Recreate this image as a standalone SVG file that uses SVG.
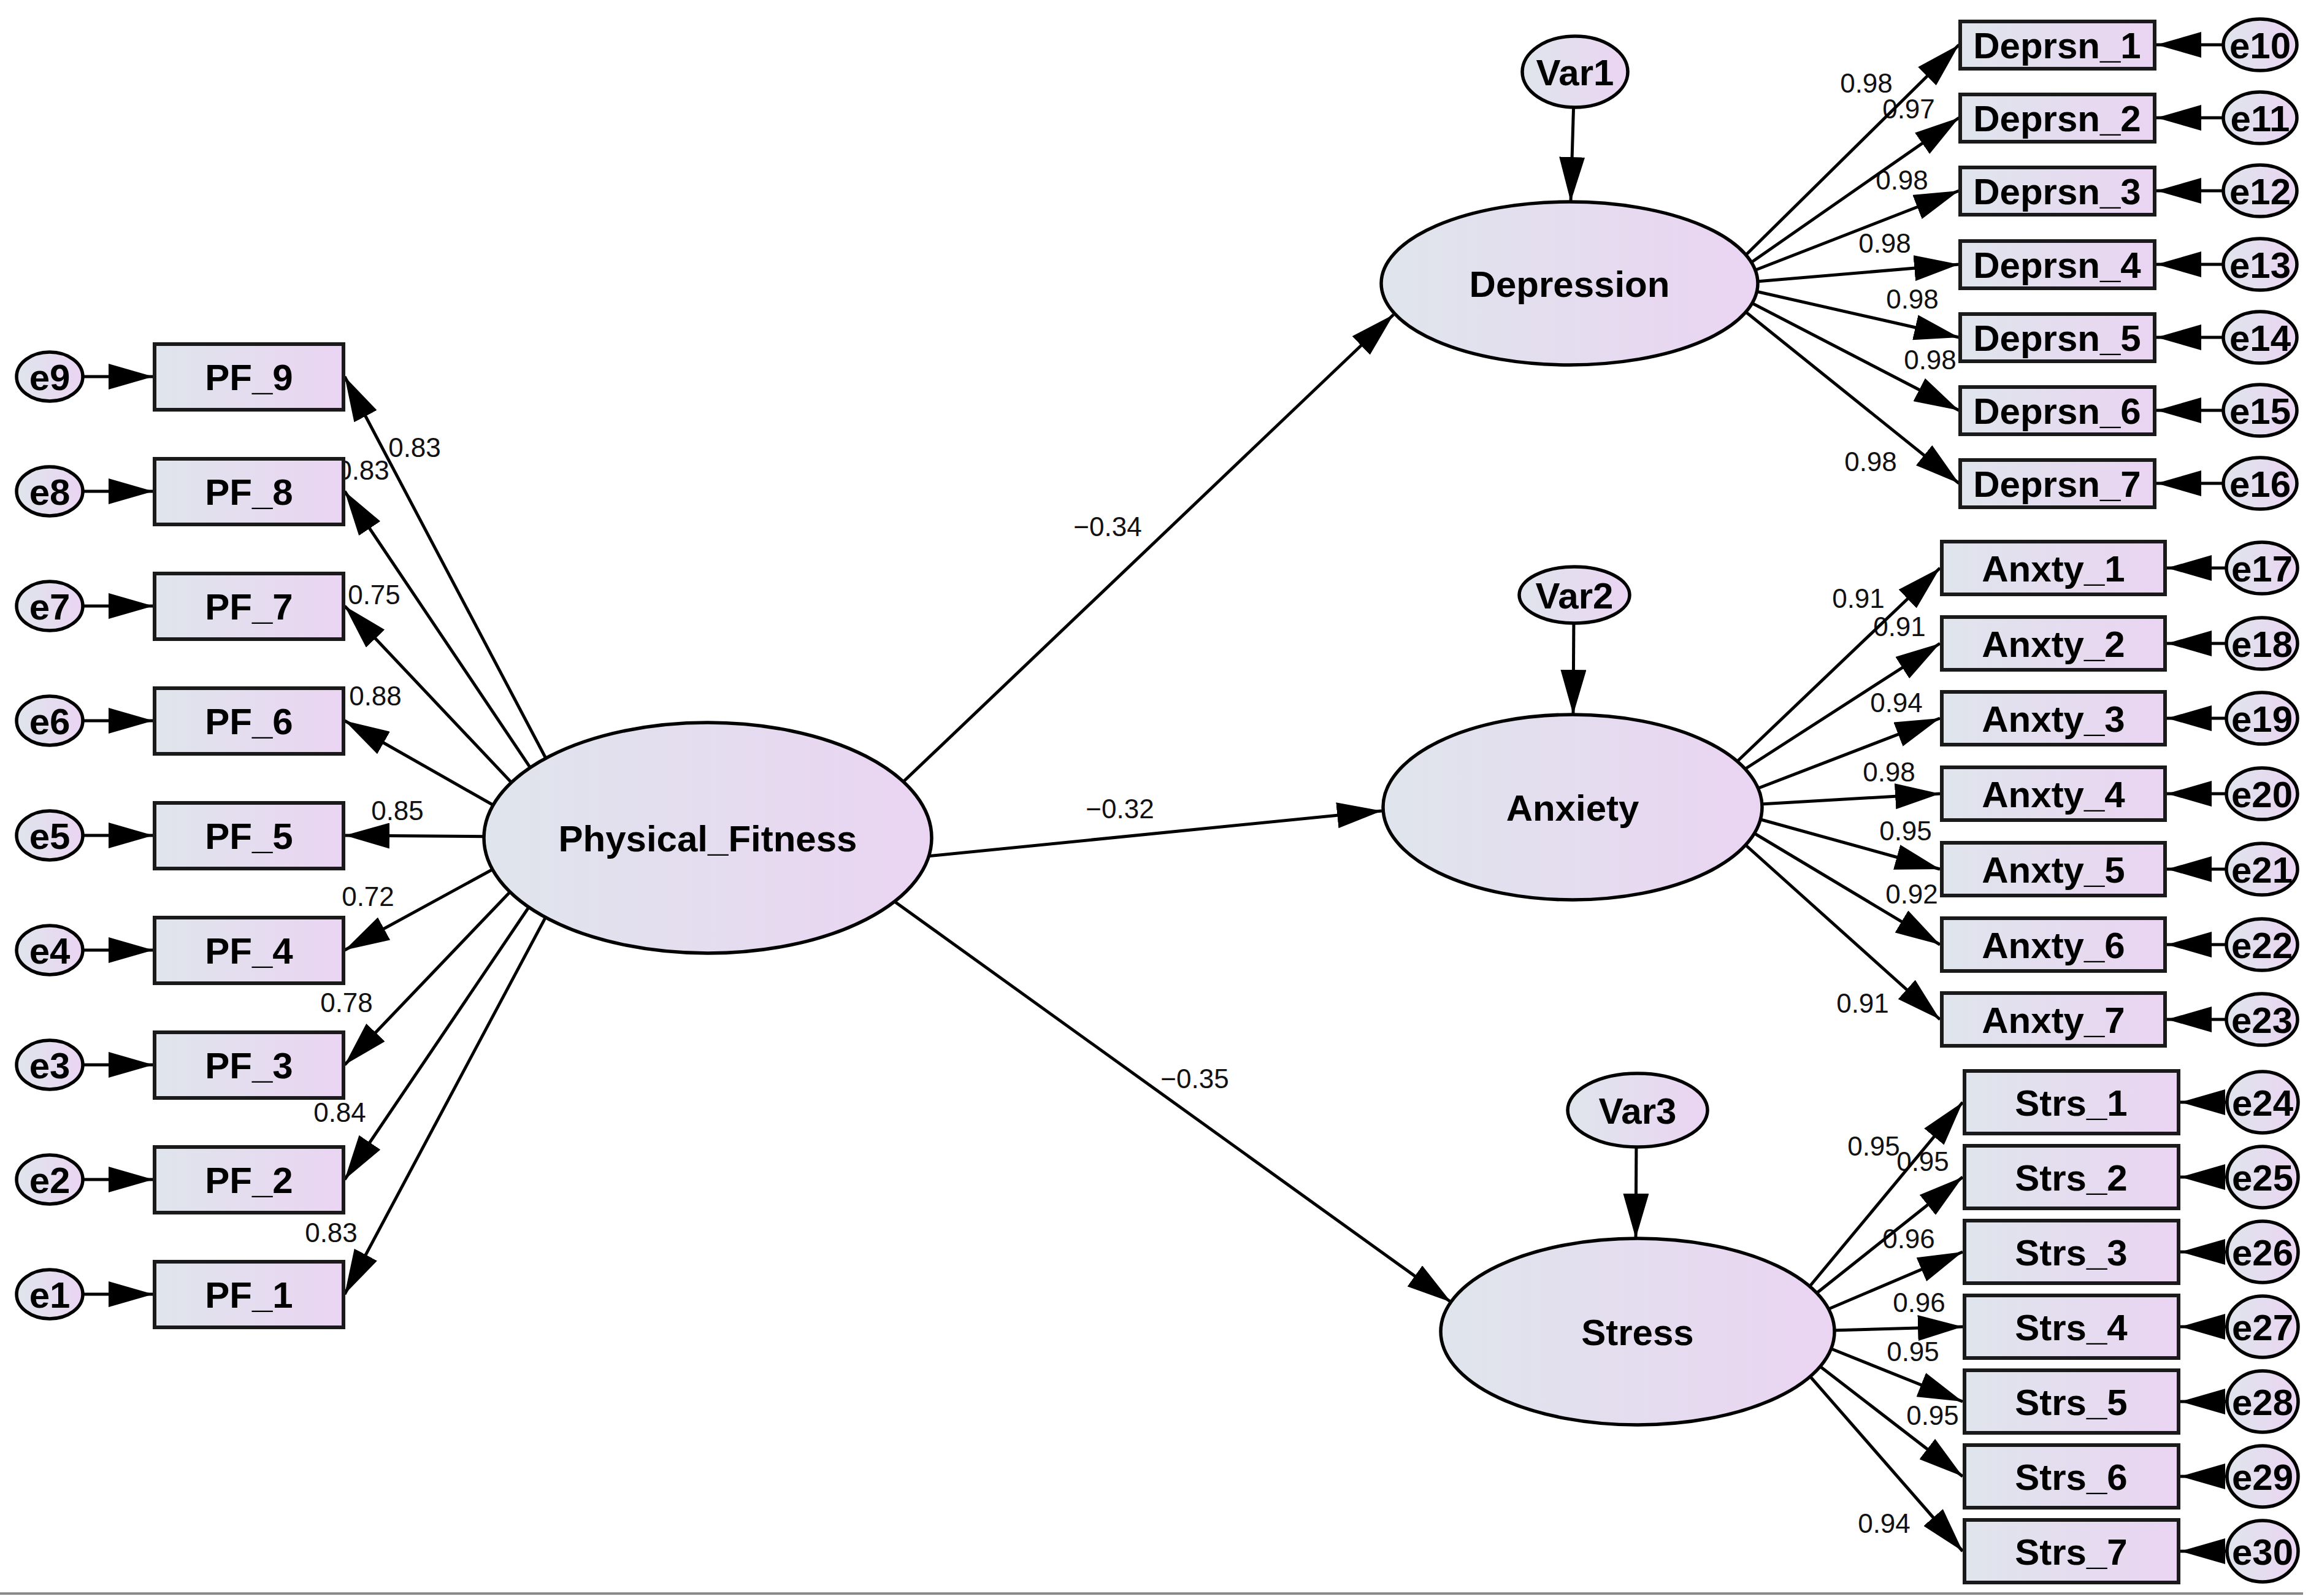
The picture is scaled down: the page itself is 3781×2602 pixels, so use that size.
<svg xmlns="http://www.w3.org/2000/svg" width="3781" height="2602" viewBox="0 0 3781 2602">
<defs>
<linearGradient id="fill" x1="0" y1="0" x2="1" y2="0">
<stop offset="0" stop-color="#DFE5EC"/>
<stop offset="1" stop-color="#EAD4F2"/>
</linearGradient>
<marker id="ah" viewBox="0 0 73 42" refX="73" refY="21" markerWidth="73" markerHeight="42" markerUnits="userSpaceOnUse" orient="auto">
<path d="M0,0 L73,21 L0,42 z" fill="#000"/>
</marker>
<style>
.obs{fill:url(#fill);stroke:#1a1a1a;stroke-width:6}
.lat{fill:url(#fill);stroke:#000;stroke-width:5.5}
.err{fill:url(#fill);stroke:#000;stroke-width:5.5}
.nt{font-family:"Liberation Sans",Arial,sans-serif;font-weight:bold;font-size:60px;text-anchor:middle;fill:#000}
.lb{font-family:"Liberation Sans",Arial,sans-serif;font-size:44px;text-anchor:middle;fill:#111}
.c{stroke:#000;stroke-width:5;fill:none;marker-end:url(#ah)}
</style>
</defs>
<rect x="0" y="0" width="3781" height="2602" fill="#fff"/>

<g id="labels">
<text class="lb" x="676" y="745">0.83</text>
<text class="lb" x="592" y="782">0.83</text>
<text class="lb" x="610" y="985">0.75</text>
<text class="lb" x="612" y="1150">0.88</text>
<text class="lb" x="648" y="1337">0.85</text>
<text class="lb" x="600" y="1477">0.72</text>
<text class="lb" x="565" y="1650">0.78</text>
<text class="lb" x="554" y="1829">0.84</text>
<text class="lb" x="540" y="2025">0.83</text>
<text class="lb" x="1806" y="874">−0.34</text>
<text class="lb" x="1826" y="1334">−0.32</text>
<text class="lb" x="1948" y="1774">−0.35</text>
<text class="lb" x="3043" y="151">0.98</text>
<text class="lb" x="3112" y="193">0.97</text>
<text class="lb" x="3101" y="309">0.98</text>
<text class="lb" x="3073" y="412">0.98</text>
<text class="lb" x="3118" y="503">0.98</text>
<text class="lb" x="3147" y="602">0.98</text>
<text class="lb" x="3050" y="768">0.98</text>
<text class="lb" x="3030" y="991">0.91</text>
<text class="lb" x="3097" y="1037">0.91</text>
<text class="lb" x="3092" y="1161">0.94</text>
<text class="lb" x="3080" y="1274">0.98</text>
<text class="lb" x="3107" y="1370">0.95</text>
<text class="lb" x="3117" y="1473">0.92</text>
<text class="lb" x="3037" y="1651">0.91</text>
<text class="lb" x="3055" y="1884">0.95</text>
<text class="lb" x="3135" y="1909">0.95</text>
<text class="lb" x="3112" y="2035">0.96</text>
<text class="lb" x="3129" y="2139">0.96</text>
<text class="lb" x="3119" y="2219">0.95</text>
<text class="lb" x="3151" y="2323">0.95</text>
<text class="lb" x="3072" y="2499">0.94</text>
</g>

<g id="connectors">
<line class="c" x1="1446" y1="1300" x2="2272" y2="513"/>
<line class="c" x1="1481" y1="1399" x2="2253" y2="1322"/>
<line class="c" x1="1431" y1="1450" x2="2366" y2="2123"/>
<line class="c" x1="2566" y1="160" x2="2561" y2="329"/>
<line class="c" x1="2566" y1="1000" x2="2565" y2="1165"/>
<line class="c" x1="2668" y1="1850" x2="2667" y2="2019"/>
<line class="c" x1="903" y1="1261" x2="562" y2="614"/>
<line class="c" x1="881" y1="1276" x2="562" y2="801"/>
<line class="c" x1="853" y1="1296" x2="562" y2="988"/>
<line class="c" x1="826" y1="1325" x2="562" y2="1175"/>
<line class="c" x1="819" y1="1364" x2="562" y2="1362"/>
<line class="c" x1="824" y1="1406" x2="562" y2="1549"/>
<line class="c" x1="847" y1="1438" x2="562" y2="1736"/>
<line class="c" x1="875" y1="1460" x2="562" y2="1923"/>
<line class="c" x1="901" y1="1474" x2="562" y2="2110"/>
<line class="c" x1="130" y1="614" x2="250" y2="614"/>
<line class="c" x1="130" y1="801" x2="250" y2="801"/>
<line class="c" x1="130" y1="988" x2="250" y2="988"/>
<line class="c" x1="130" y1="1175" x2="250" y2="1175"/>
<line class="c" x1="130" y1="1362" x2="250" y2="1362"/>
<line class="c" x1="130" y1="1549" x2="250" y2="1549"/>
<line class="c" x1="130" y1="1736" x2="250" y2="1736"/>
<line class="c" x1="130" y1="1923" x2="250" y2="1923"/>
<line class="c" x1="130" y1="2110" x2="250" y2="2110"/>
<line class="c" x1="2829" y1="433" x2="3194" y2="73"/>
<line class="c" x1="2835" y1="442" x2="3194" y2="192"/>
<line class="c" x1="2837" y1="450" x2="3194" y2="311"/>
<line class="c" x1="2840" y1="461" x2="3194" y2="431"/>
<line class="c" x1="2841" y1="470" x2="3194" y2="550"/>
<line class="c" x1="2833" y1="482" x2="3194" y2="669"/>
<line class="c" x1="2827" y1="493" x2="3194" y2="788"/>
<line class="c" x1="3635" y1="73" x2="3516" y2="73"/>
<line class="c" x1="3635" y1="192" x2="3516" y2="192"/>
<line class="c" x1="3635" y1="311" x2="3516" y2="311"/>
<line class="c" x1="3635" y1="431" x2="3516" y2="431"/>
<line class="c" x1="3635" y1="550" x2="3516" y2="550"/>
<line class="c" x1="3635" y1="669" x2="3516" y2="669"/>
<line class="c" x1="3635" y1="788" x2="3516" y2="788"/>
<line class="c" x1="2816" y1="1257" x2="3163" y2="926"/>
<line class="c" x1="2823" y1="1268" x2="3163" y2="1049"/>
<line class="c" x1="2833" y1="1298" x2="3163" y2="1171"/>
<line class="c" x1="2837" y1="1313" x2="3163" y2="1294"/>
<line class="c" x1="2838" y1="1327" x2="3163" y2="1417"/>
<line class="c" x1="2831" y1="1341" x2="3163" y2="1540"/>
<line class="c" x1="2823" y1="1357" x2="3163" y2="1662"/>
<line class="c" x1="3640" y1="926" x2="3533" y2="926"/>
<line class="c" x1="3640" y1="1049" x2="3533" y2="1049"/>
<line class="c" x1="3640" y1="1171" x2="3533" y2="1171"/>
<line class="c" x1="3640" y1="1294" x2="3533" y2="1294"/>
<line class="c" x1="3640" y1="1417" x2="3533" y2="1417"/>
<line class="c" x1="3640" y1="1540" x2="3533" y2="1540"/>
<line class="c" x1="3640" y1="1662" x2="3533" y2="1662"/>
<line class="c" x1="2930" y1="2122" x2="3200" y2="1797"/>
<line class="c" x1="2937" y1="2128" x2="3200" y2="1919"/>
<line class="c" x1="2944" y1="2150" x2="3200" y2="2041"/>
<line class="c" x1="2951" y1="2170" x2="3200" y2="2163"/>
<line class="c" x1="2951" y1="2185" x2="3200" y2="2285"/>
<line class="c" x1="2942" y1="2208" x2="3200" y2="2407"/>
<line class="c" x1="2932" y1="2222" x2="3200" y2="2529"/>
<line class="c" x1="3645" y1="1797" x2="3555" y2="1797"/>
<line class="c" x1="3645" y1="1919" x2="3555" y2="1919"/>
<line class="c" x1="3645" y1="2041" x2="3555" y2="2041"/>
<line class="c" x1="3645" y1="2163" x2="3555" y2="2163"/>
<line class="c" x1="3645" y1="2285" x2="3555" y2="2285"/>
<line class="c" x1="3645" y1="2407" x2="3555" y2="2407"/>
<line class="c" x1="3645" y1="2529" x2="3555" y2="2529"/>
</g>

<g id="Physical_Fitness"><ellipse class="lat" cx="1154" cy="1366" rx="365" ry="188"/><text class="nt" x="1154" y="1388">Physical_Fitness</text></g>
<g id="Depression"><ellipse class="lat" cx="2559" cy="462" rx="307" ry="133"/><text class="nt" x="2559" y="484">Depression</text></g>
<g id="Anxiety"><ellipse class="lat" cx="2564" cy="1316" rx="309" ry="151"/><text class="nt" x="2564" y="1338">Anxiety</text></g>
<g id="Stress"><ellipse class="lat" cx="2670" cy="2171" rx="321" ry="152"/><text class="nt" x="2670" y="2193">Stress</text></g>
<g id="Var1"><ellipse class="err" cx="2568" cy="117" rx="86" ry="58"/><text class="nt" x="2568" y="139">Var1</text></g>
<g id="Var2"><ellipse class="err" cx="2567" cy="970" rx="90" ry="46"/><text class="nt" x="2567" y="992">Var2</text></g>
<g id="Var3"><ellipse class="err" cx="2670" cy="1810" rx="114" ry="60"/><text class="nt" x="2670" y="1832">Var3</text></g>

<g id="PF_9"><rect class="obs" x="252" y="561" width="308" height="107"/><text class="nt" x="406" y="636">PF_9</text></g>
<g id="PF_8"><rect class="obs" x="252" y="748" width="308" height="107"/><text class="nt" x="406" y="823">PF_8</text></g>
<g id="PF_7"><rect class="obs" x="252" y="935" width="308" height="107"/><text class="nt" x="406" y="1010">PF_7</text></g>
<g id="PF_6"><rect class="obs" x="252" y="1122" width="308" height="107"/><text class="nt" x="406" y="1197">PF_6</text></g>
<g id="PF_5"><rect class="obs" x="252" y="1309" width="308" height="107"/><text class="nt" x="406" y="1384">PF_5</text></g>
<g id="PF_4"><rect class="obs" x="252" y="1496" width="308" height="107"/><text class="nt" x="406" y="1571">PF_4</text></g>
<g id="PF_3"><rect class="obs" x="252" y="1683" width="308" height="107"/><text class="nt" x="406" y="1758">PF_3</text></g>
<g id="PF_2"><rect class="obs" x="252" y="1870" width="308" height="107"/><text class="nt" x="406" y="1945">PF_2</text></g>
<g id="PF_1"><rect class="obs" x="252" y="2057" width="308" height="107"/><text class="nt" x="406" y="2132">PF_1</text></g>

<g id="e9"><ellipse class="err" cx="81" cy="614" rx="54" ry="40"/><text class="nt" x="81" y="636">e9</text></g>
<g id="e8"><ellipse class="err" cx="81" cy="801" rx="54" ry="40"/><text class="nt" x="81" y="823">e8</text></g>
<g id="e7"><ellipse class="err" cx="81" cy="988" rx="54" ry="40"/><text class="nt" x="81" y="1010">e7</text></g>
<g id="e6"><ellipse class="err" cx="81" cy="1175" rx="54" ry="40"/><text class="nt" x="81" y="1197">e6</text></g>
<g id="e5"><ellipse class="err" cx="81" cy="1362" rx="54" ry="40"/><text class="nt" x="81" y="1384">e5</text></g>
<g id="e4"><ellipse class="err" cx="81" cy="1549" rx="54" ry="40"/><text class="nt" x="81" y="1571">e4</text></g>
<g id="e3"><ellipse class="err" cx="81" cy="1736" rx="54" ry="40"/><text class="nt" x="81" y="1758">e3</text></g>
<g id="e2"><ellipse class="err" cx="81" cy="1923" rx="54" ry="40"/><text class="nt" x="81" y="1945">e2</text></g>
<g id="e1"><ellipse class="err" cx="81" cy="2110" rx="54" ry="40"/><text class="nt" x="81" y="2132">e1</text></g>

<g id="Deprsn_1"><rect class="obs" x="3196" y="35" width="317" height="77"/><text class="nt" x="3354" y="95">Deprsn_1</text></g>
<g id="Deprsn_2"><rect class="obs" x="3196" y="154" width="317" height="77"/><text class="nt" x="3354" y="214">Deprsn_2</text></g>
<g id="Deprsn_3"><rect class="obs" x="3196" y="273" width="317" height="77"/><text class="nt" x="3354" y="333">Deprsn_3</text></g>
<g id="Deprsn_4"><rect class="obs" x="3196" y="393" width="317" height="77"/><text class="nt" x="3354" y="453">Deprsn_4</text></g>
<g id="Deprsn_5"><rect class="obs" x="3196" y="512" width="317" height="77"/><text class="nt" x="3354" y="572">Deprsn_5</text></g>
<g id="Deprsn_6"><rect class="obs" x="3196" y="631" width="317" height="77"/><text class="nt" x="3354" y="691">Deprsn_6</text></g>
<g id="Deprsn_7"><rect class="obs" x="3196" y="750" width="317" height="77"/><text class="nt" x="3354" y="810">Deprsn_7</text></g>

<g id="e10"><ellipse class="err" cx="3685" cy="73" rx="60" ry="42"/><text class="nt" x="3685" y="95">e10</text></g>
<g id="e11"><ellipse class="err" cx="3685" cy="192" rx="60" ry="42"/><text class="nt" x="3685" y="214">e11</text></g>
<g id="e12"><ellipse class="err" cx="3685" cy="311" rx="60" ry="42"/><text class="nt" x="3685" y="333">e12</text></g>
<g id="e13"><ellipse class="err" cx="3685" cy="431" rx="60" ry="42"/><text class="nt" x="3685" y="453">e13</text></g>
<g id="e14"><ellipse class="err" cx="3685" cy="550" rx="60" ry="42"/><text class="nt" x="3685" y="572">e14</text></g>
<g id="e15"><ellipse class="err" cx="3685" cy="669" rx="60" ry="42"/><text class="nt" x="3685" y="691">e15</text></g>
<g id="e16"><ellipse class="err" cx="3685" cy="788" rx="60" ry="42"/><text class="nt" x="3685" y="810">e16</text></g>

<g id="Anxty_1"><rect class="obs" x="3166" y="883" width="364" height="86"/><text class="nt" x="3348" y="948">Anxty_1</text></g>
<g id="Anxty_2"><rect class="obs" x="3166" y="1006" width="364" height="86"/><text class="nt" x="3348" y="1071">Anxty_2</text></g>
<g id="Anxty_3"><rect class="obs" x="3166" y="1128" width="364" height="86"/><text class="nt" x="3348" y="1193">Anxty_3</text></g>
<g id="Anxty_4"><rect class="obs" x="3166" y="1251" width="364" height="86"/><text class="nt" x="3348" y="1316">Anxty_4</text></g>
<g id="Anxty_5"><rect class="obs" x="3166" y="1374" width="364" height="86"/><text class="nt" x="3348" y="1439">Anxty_5</text></g>
<g id="Anxty_6"><rect class="obs" x="3166" y="1497" width="364" height="86"/><text class="nt" x="3348" y="1562">Anxty_6</text></g>
<g id="Anxty_7"><rect class="obs" x="3166" y="1619" width="364" height="86"/><text class="nt" x="3348" y="1684">Anxty_7</text></g>

<g id="e17"><ellipse class="err" cx="3688" cy="926" rx="58" ry="42"/><text class="nt" x="3688" y="948">e17</text></g>
<g id="e18"><ellipse class="err" cx="3688" cy="1049" rx="58" ry="42"/><text class="nt" x="3688" y="1071">e18</text></g>
<g id="e19"><ellipse class="err" cx="3688" cy="1171" rx="58" ry="42"/><text class="nt" x="3688" y="1193">e19</text></g>
<g id="e20"><ellipse class="err" cx="3688" cy="1294" rx="58" ry="42"/><text class="nt" x="3688" y="1316">e20</text></g>
<g id="e21"><ellipse class="err" cx="3688" cy="1417" rx="58" ry="42"/><text class="nt" x="3688" y="1439">e21</text></g>
<g id="e22"><ellipse class="err" cx="3688" cy="1540" rx="58" ry="42"/><text class="nt" x="3688" y="1562">e22</text></g>
<g id="e23"><ellipse class="err" cx="3688" cy="1662" rx="58" ry="42"/><text class="nt" x="3688" y="1684">e23</text></g>

<g id="Strs_1"><rect class="obs" x="3203" y="1746" width="349" height="102"/><text class="nt" x="3377" y="1819">Strs_1</text></g>
<g id="Strs_2"><rect class="obs" x="3203" y="1868" width="349" height="102"/><text class="nt" x="3377" y="1941">Strs_2</text></g>
<g id="Strs_3"><rect class="obs" x="3203" y="1990" width="349" height="102"/><text class="nt" x="3377" y="2063">Strs_3</text></g>
<g id="Strs_4"><rect class="obs" x="3203" y="2112" width="349" height="102"/><text class="nt" x="3377" y="2185">Strs_4</text></g>
<g id="Strs_5"><rect class="obs" x="3203" y="2234" width="349" height="102"/><text class="nt" x="3377" y="2307">Strs_5</text></g>
<g id="Strs_6"><rect class="obs" x="3203" y="2356" width="349" height="102"/><text class="nt" x="3377" y="2429">Strs_6</text></g>
<g id="Strs_7"><rect class="obs" x="3203" y="2478" width="349" height="102"/><text class="nt" x="3377" y="2551">Strs_7</text></g>

<g id="e24"><ellipse class="err" cx="3689" cy="1797" rx="58" ry="50"/><text class="nt" x="3689" y="1819">e24</text></g>
<g id="e25"><ellipse class="err" cx="3689" cy="1919" rx="58" ry="50"/><text class="nt" x="3689" y="1941">e25</text></g>
<g id="e26"><ellipse class="err" cx="3689" cy="2041" rx="58" ry="50"/><text class="nt" x="3689" y="2063">e26</text></g>
<g id="e27"><ellipse class="err" cx="3689" cy="2163" rx="58" ry="50"/><text class="nt" x="3689" y="2185">e27</text></g>
<g id="e28"><ellipse class="err" cx="3689" cy="2285" rx="58" ry="50"/><text class="nt" x="3689" y="2307">e28</text></g>
<g id="e29"><ellipse class="err" cx="3689" cy="2407" rx="58" ry="50"/><text class="nt" x="3689" y="2429">e29</text></g>
<g id="e30"><ellipse class="err" cx="3689" cy="2529" rx="58" ry="50"/><text class="nt" x="3689" y="2551">e30</text></g>

<line x1="0" y1="2598" x2="3755" y2="2598" stroke="#8a8a8a" stroke-width="4"/>
</svg>
